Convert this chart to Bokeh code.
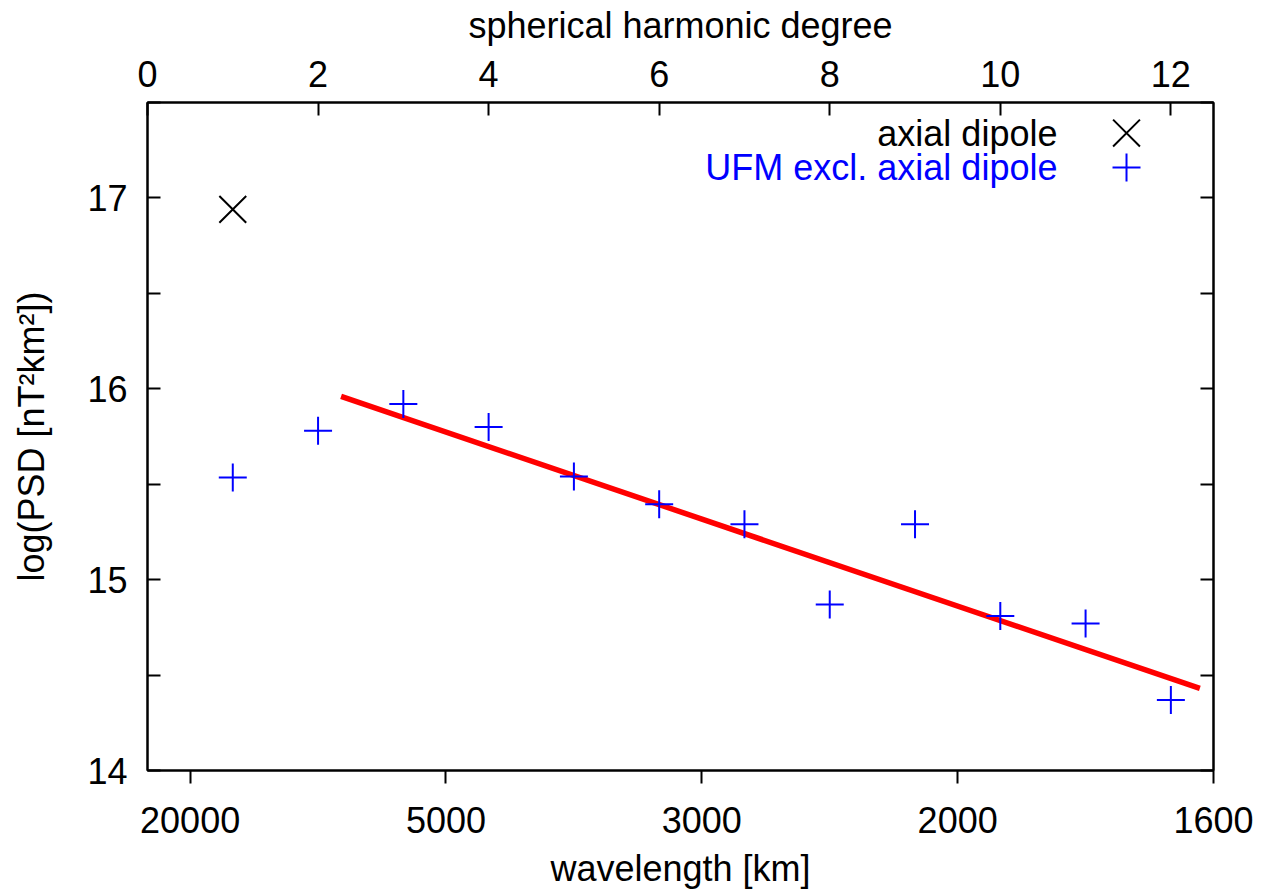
from bokeh.plotting import figure
from bokeh.models import Range1d, LinearAxis, FixedTicker, Label
from bokeh.embed import file_html
from bokeh.resources import INLINE

# ---- data ----
degree = [1, 2, 3, 4, 5, 6, 7, 8, 9, 10, 11, 12]
ufm_psd = [15.535, 15.78, 15.92, 15.80, 15.54, 15.395, 15.29, 14.87, 15.29, 14.81, 14.77, 14.37]
axial_degree = [1]
axial_psd = [16.94]
fit_degree = [2.27, 12.34]
fit_psd = [15.96, 14.43]
degree_ticks = [0, 2, 4, 6, 8, 10, 12]
wavelength_tick_degree = [0.5, 3.5, 6.5, 9.5, 12.5]
wavelength_labels = ["20000", "5000", "3000", "2000", "1600"]
psd_ticks = [14, 14.5, 15, 15.5, 16, 16.5, 17, 17.5]
legend_labels = ["axial dipole", "UFM excl. axial dipole"]

FONT = "Liberation Sans"
FS = "36px"

p = figure(width=1267, height=892, x_range=Range1d(0, 12.5), y_range=Range1d(14, 17.5),
           output_backend="svg", toolbar_location=None, x_axis_location="above",
           min_border_left=147, min_border_right=54, min_border_top=102, min_border_bottom=122)
p.xgrid.visible = False
p.ygrid.visible = False
p.outline_line_color = "black"
p.outline_line_width = 2
p.background_fill_color = "white"
p.border_fill_color = "white"


def style_axis(ax):
    ax.axis_line_color = "black"
    ax.axis_line_width = 2
    ax.major_tick_line_color = "black"
    ax.major_tick_line_width = 2
    ax.minor_tick_line_color = None
    ax.major_label_text_font = FONT
    ax.major_label_text_font_size = FS
    ax.major_label_text_color = "black"
    ax.axis_label_text_font = FONT
    ax.axis_label_text_font_size = FS
    ax.axis_label_text_font_style = "normal"
    ax.axis_label_text_color = "black"


# top: spherical harmonic degree
top = p.xaxis[0]
style_axis(top)
top.ticker = FixedTicker(ticks=degree_ticks)
top.major_tick_in = 13
top.major_tick_out = 0
top.major_label_standoff = 16
top.axis_label = "spherical harmonic degree"
top.axis_label_standoff = 12

# left: log PSD
left = p.yaxis[0]
style_axis(left)
left.ticker = FixedTicker(ticks=psd_ticks)
left.major_label_overrides = {t: ("" if t != int(t) else str(int(t))) for t in psd_ticks}
left.major_tick_in = 13
left.major_tick_out = 0
left.major_label_standoff = 20
left.axis_label = "log(PSD [nT\u00b2km\u00b2])"
left.axis_label_standoff = 32

# bottom: wavelength
bottom = LinearAxis(ticker=FixedTicker(ticks=wavelength_tick_degree))
style_axis(bottom)
bottom.major_label_overrides = dict(zip(wavelength_tick_degree, wavelength_labels))
bottom.major_tick_in = 0
bottom.major_tick_out = 13
bottom.major_label_standoff = 23
bottom.axis_label = "wavelength [km]"
bottom.axis_label_standoff = 12
p.add_layout(bottom, "below")

# right: mirrored ticks only
right = LinearAxis(ticker=FixedTicker(ticks=psd_ticks))
style_axis(right)
right.major_label_overrides = {t: "" for t in psd_ticks}
right.major_tick_in = 13
right.major_tick_out = 0
p.add_layout(right, "right")

# data
p.line(fit_degree, fit_psd, line_color="#ff0000", line_width=5.5)
p.scatter(degree, ufm_psd, marker="cross", size=28, line_color="#0000ff", line_width=2)
p.scatter(axial_degree, axial_psd, marker="x", size=38, line_color="black", line_width=2)

# legend (gnuplot style: text right-aligned, symbol to its right)
leg_x_text = 10.67
leg_x_sym = 11.48
leg_y = [17.34, 17.16]
p.scatter([leg_x_sym], [leg_y[0]], marker="x", size=38, line_color="black", line_width=2)
p.scatter([leg_x_sym], [leg_y[1]], marker="cross", size=28, line_color="#0000ff", line_width=2)
for lab, yy, col in zip(legend_labels, leg_y, ["black", "#0000ff"]):
    p.add_layout(Label(x=leg_x_text, y=yy, text=lab, text_align="right", text_baseline="middle",
                       text_font=FONT, text_font_size=FS, text_color=col))

open("out.html", "w").write(file_html(p, INLINE))
